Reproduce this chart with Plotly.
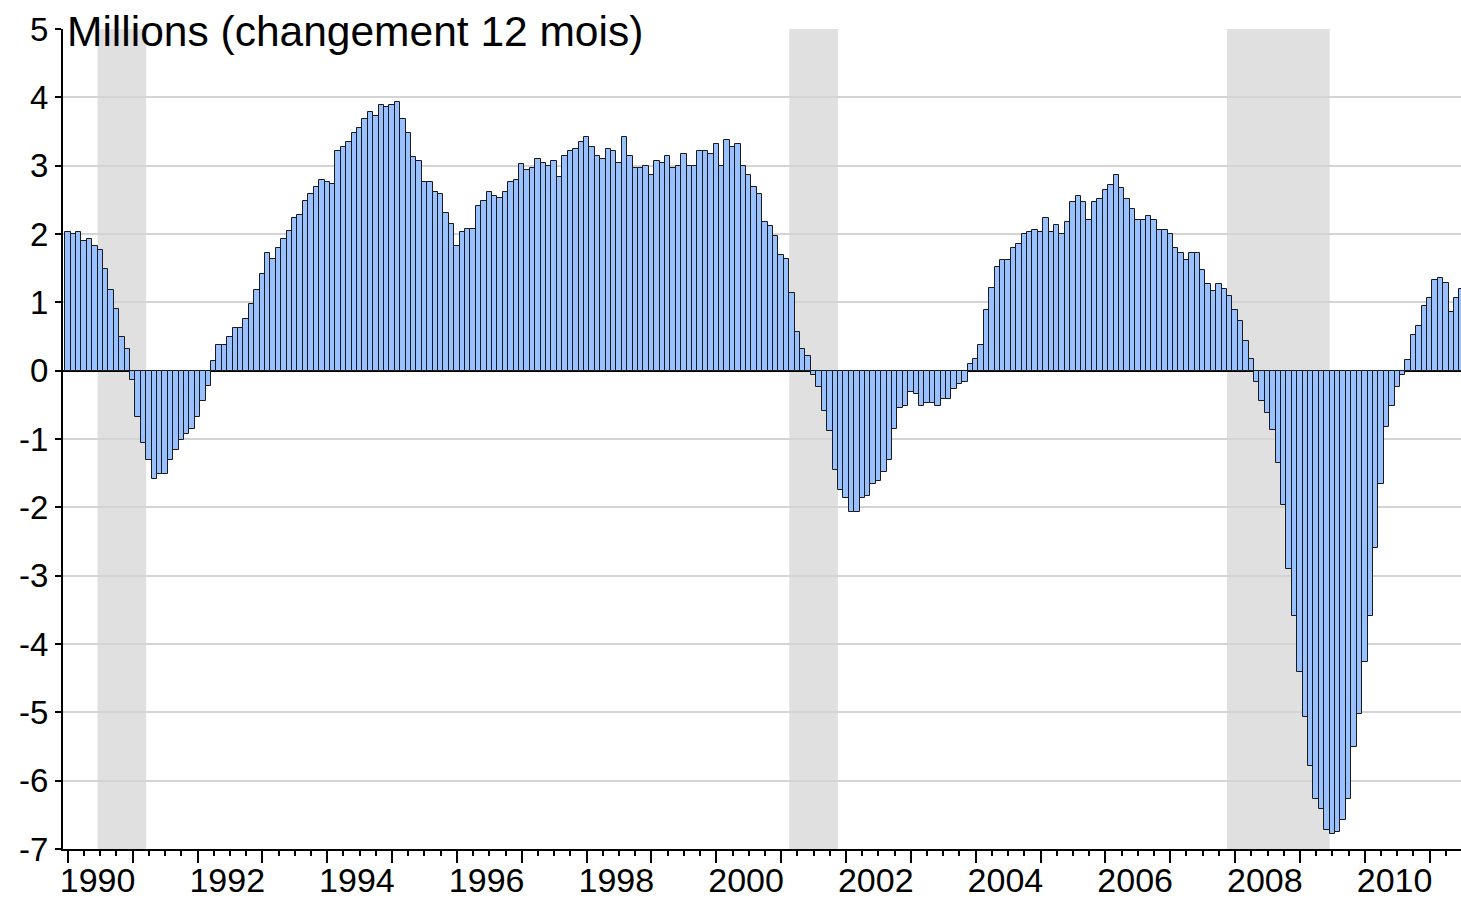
import plotly.graph_objects as go

# ---- data (millions, 12-month change), monthly from 1990-01 ----
start_year = 1990
v1990 = [2.03, 2.00, 2.03, 1.90, 1.93, 1.83, 1.76, 1.49, 1.18, 0.90, 0.49, 0.31]
v1991 = [-0.14, -0.68, -1.06, -1.30, -1.58, -1.51, -1.51, -1.30, -1.16, -1.02, -0.92, -0.85]
v1992 = [-0.68, -0.44, -0.23, 0.14, 0.38, 0.38, 0.49, 0.63, 0.63, 0.76, 0.97, 1.18]
v1993 = [1.42, 1.72, 1.63, 1.80, 1.93, 2.04, 2.24, 2.28, 2.49, 2.59, 2.69, 2.79]
v1994 = [2.76, 2.73, 3.21, 3.27, 3.34, 3.48, 3.55, 3.69, 3.79, 3.72, 3.89, 3.86]
v1995 = [3.89, 3.93, 3.69, 3.48, 3.13, 3.07, 2.76, 2.76, 2.62, 2.59, 2.31, 2.14]
v1996 = [1.83, 2.03, 2.07, 2.07, 2.41, 2.48, 2.62, 2.55, 2.52, 2.62, 2.76, 2.79]
v1997 = [3.03, 2.93, 2.96, 3.10, 3.04, 3.00, 3.07, 2.83, 3.14, 3.21, 3.24, 3.34]
v1998 = [3.42, 3.28, 3.14, 3.10, 3.24, 3.21, 3.04, 3.42, 3.14, 2.96, 2.96, 3.00]
v1999 = [2.86, 3.07, 3.04, 3.14, 2.96, 3.00, 3.17, 3.00, 3.00, 3.21, 3.21, 3.17]
v2000 = [3.31, 3.00, 3.38, 3.28, 3.31, 3.00, 2.86, 2.69, 2.59, 2.18, 2.11, 1.97]
v2001 = [1.70, 1.63, 1.14, 0.56, 0.32, 0.21, -0.07, -0.24, -0.59, -0.89, -1.45, -1.75]
v2002 = [-1.86, -2.07, -2.07, -1.86, -1.83, -1.66, -1.62, -1.48, -1.31, -0.86, -0.55, -0.52]
v2003 = [-0.31, -0.34, -0.52, -0.48, -0.48, -0.52, -0.41, -0.41, -0.27, -0.20, -0.17, 0.10]
v2004 = [0.17, 0.38, 0.89, 1.21, 1.52, 1.62, 1.62, 1.79, 1.85, 2.00, 2.03, 2.06]
v2005 = [2.03, 2.23, 2.03, 2.13, 2.00, 2.17, 2.47, 2.55, 2.47, 2.20, 2.47, 2.51]
v2006 = [2.65, 2.72, 2.86, 2.68, 2.51, 2.37, 2.20, 2.20, 2.27, 2.20, 2.06, 2.06]
v2007 = [2.00, 1.79, 1.72, 1.62, 1.72, 1.72, 1.48, 1.27, 1.17, 1.27, 1.20, 1.10]
v2008 = [0.89, 0.72, 0.44, 0.17, -0.17, -0.45, -0.62, -0.87, -1.35, -1.97, -2.90, -3.59]
v2009 = [-4.41, -5.07, -5.79, -6.27, -6.41, -6.72, -6.78, -6.75, -6.58, -6.27, -5.51, -5.03]
v2010 = [-4.27, -3.59, -2.59, -1.66, -0.83, -0.52, -0.24, -0.07, 0.15, 0.52, 0.66, 0.94]
v2011 = [1.07, 1.32, 1.35, 1.28, 0.86, 1.07, 1.20]

values = (v1990 + v1991 + v1992 + v1993 + v1994 + v1995 + v1996 + v1997 + v1998 +
          v1999 + v2000 + v2001 + v2002 + v2003 + v2004 + v2005 + v2006 + v2007 +
          v2008 + v2009 + v2010 + v2011)

# recession periods (first month, last month)
recessions = [("1990-07", "1991-03"), ("2001-03", "2001-11"), ("2007-12", "2009-06")]

label_years = [1990, 1992, 1994, 1996, 1998, 2000, 2002, 2004, 2006, 2008, 2010]
y_ticks = [-7, -6, -5, -4, -3, -2, -1, 0, 1, 2, 3, 4, 5]
grid_vals = [-6, -5, -4, -3, -2, -1, 1, 2, 3, 4]
title_text = "Millions (changement 12 mois)"


def month_index(s):
    y, m = s.split("-")
    return (int(y) - start_year) * 12 + int(m) - 1


x = list(range(len(values)))
FONT = "Liberation Sans, Arial, sans-serif"
x_range = [-0.89, 257.8]
y_range = [-7, 5]

fig = go.Figure()
fig.add_trace(go.Bar(
    x=x, y=values,
    marker=dict(color="#99C0FF", line=dict(color="#1a1a1a", width=1)),
    width=1.0, showlegend=False, hoverinfo="x+y",
))
# invisible helper trace for overlay axes (ticks / grid)
fig.add_trace(go.Scatter(x=[0], y=[0], xaxis="x2", yaxis="y2", mode="markers",
                         marker=dict(opacity=0), showlegend=False, hoverinfo="skip"))

for s, e in recessions:
    fig.add_shape(type="rect", xref="x", yref="y",
                  x0=month_index(s) - 0.5, x1=month_index(e) + 0.5,
                  y0=y_range[0], y1=y_range[1],
                  fillcolor="#E0E0E0", line=dict(width=0), layer="below")

fig.update_layout(
    width=1461, height=899,
    margin=dict(l=63, r=0, t=29, b=50),
    plot_bgcolor="white", paper_bgcolor="white",
    bargap=0,
    font=dict(family=FONT, color="black"),
    xaxis=dict(
        range=x_range, tickmode="array", automargin=False,
        tickvals=[(yy - start_year) * 12 + 5.5 for yy in label_years],
        ticktext=[str(yy) for yy in label_years],
        ticks="", showgrid=False, zeroline=False,
        showline=True, linecolor="black", linewidth=2,
        tickfont=dict(size=34, family=FONT, color="black"),
        ticklabelstandoff=0,
    ),
    xaxis2=dict(
        range=x_range, overlaying="x", anchor="y", side="bottom", automargin=False,
        tickmode="linear", tick0=0, dtick=12,
        ticks="outside", ticklen=13, tickwidth=2, tickcolor="black",
        showticklabels=False, showgrid=False, zeroline=False, showline=False,
        minor=dict(ticks="outside", ticklen=6, tickwidth=1.5, tickcolor="black",
                   tick0=0, dtick=3, showgrid=False),
    ),
    yaxis=dict(
        range=y_range, tickmode="array", tickvals=y_ticks, automargin=False,
        ticktext=[str(t) for t in y_ticks],
        ticks="outside", ticklen=6, tickwidth=1.5, tickcolor="black",
        showgrid=False, zeroline=True, zerolinecolor="black", zerolinewidth=2,
        showline=True, linecolor="black", linewidth=2,
        tickfont=dict(size=33, family=FONT, color="black"),
        ticklabelstandoff=0,
    ),
    yaxis2=dict(
        range=y_range, overlaying="y", anchor="x", tickmode="array", automargin=False,
        tickvals=grid_vals, showticklabels=False, ticks="",
        showgrid=True, gridcolor="#D4D4D4", gridwidth=2,
        zeroline=False, showline=False,
    ),
    annotations=[dict(
        text=title_text, xref="paper", yref="paper",
        x=(65 - 63) / 1398, y=(849 - 31) / 820, xanchor="left", yanchor="middle",
        showarrow=False, font=dict(size=42.5, family=FONT, color="black"),
    )],
)

fig.write_html("out.html", config={"displayModeBar": False},
               post_script="document.body.style.margin='0px';document.body.style.padding='0px';")
